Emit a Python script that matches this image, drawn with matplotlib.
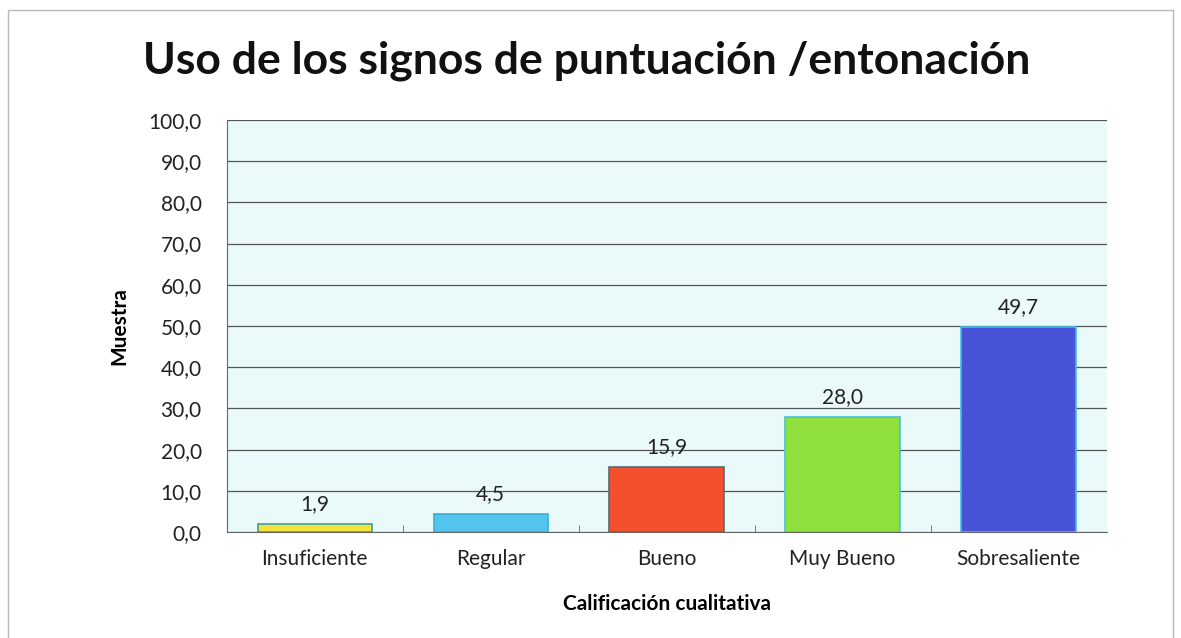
import matplotlib.pyplot as plt
from matplotlib.patches import Rectangle
from matplotlib.ticker import FixedLocator, FuncFormatter

plt.rcParams['font.family'] = ['Lato', 'DejaVu Sans']

categories = ['Insuficiente', 'Regular', 'Bueno', 'Muy Bueno', 'Sobresaliente']
values = [1.9, 4.5, 15.9, 28.0, 49.7]
colors = ['#f3e33b', '#52c4ee', '#f4502e', '#8fe03c', '#4953d8']
edges = ['#3aa0a0', '#3aaecf', '#5a6a78', '#4ac0d8', '#40c0e0']

fig = plt.figure(figsize=(11.81, 6.38), dpi=100)
fig.patches.append(Rectangle((0.007, -0.01), 0.986, 0.994, transform=fig.transFigure,
                             fill=False, edgecolor='#b8b8b8', linewidth=1))

ax = fig.add_axes([0.192, 0.166, 0.745, 0.646])
ax.set_facecolor('#eafafa')

x = range(len(categories))
bars = ax.bar(x, values, width=0.65, color=colors, edgecolor=edges, linewidth=1.2, zorder=3)
for b, v in zip(bars, values):
    ax.text(b.get_x() + b.get_width() / 2, v + 2.4, f'{v:.1f}'.replace('.', ','),
            ha='center', va='bottom', fontsize=15, color='#222222', zorder=4)

ax.set_xlim(-0.5, len(categories) - 0.5)
ax.set_ylim(0, 100)
ax.set_yticks(range(0, 101, 10))
ax.yaxis.set_major_formatter(FuncFormatter(lambda v, p: f'{v:.1f}'.replace('.', ',')))
ax.set_xticks(list(x))
ax.set_xticklabels(categories)
ax.xaxis.set_minor_locator(FixedLocator([i + 0.5 for i in range(len(categories) - 1)]))
ax.tick_params(axis='x', which='major', length=0, labelsize=15, pad=12, colors='#222222')
ax.tick_params(axis='x', which='minor', length=5, direction='in', color='#666666')
ax.tick_params(axis='y', length=0, labelsize=15, pad=18, colors='#222222')

ax.grid(axis='y', color='#555555', linewidth=0.9, zorder=0)
for s in ['top', 'right']:
    ax.spines[s].set_visible(False)
for s in ['left', 'bottom']:
    ax.spines[s].set_color('#666666')

ax.set_ylabel('Muestra', fontsize=15, fontweight='bold', labelpad=14)
ax.set_xlabel('Calificación cualitativa', fontsize=15, fontweight='bold', labelpad=18)
fig.text(0.497, 0.905, 'Uso de los signos de puntuación /entonación', ha='center', va='center',
         fontsize=32, fontweight='bold', color='#111111')

fig.savefig('out.png', dpi=100)
